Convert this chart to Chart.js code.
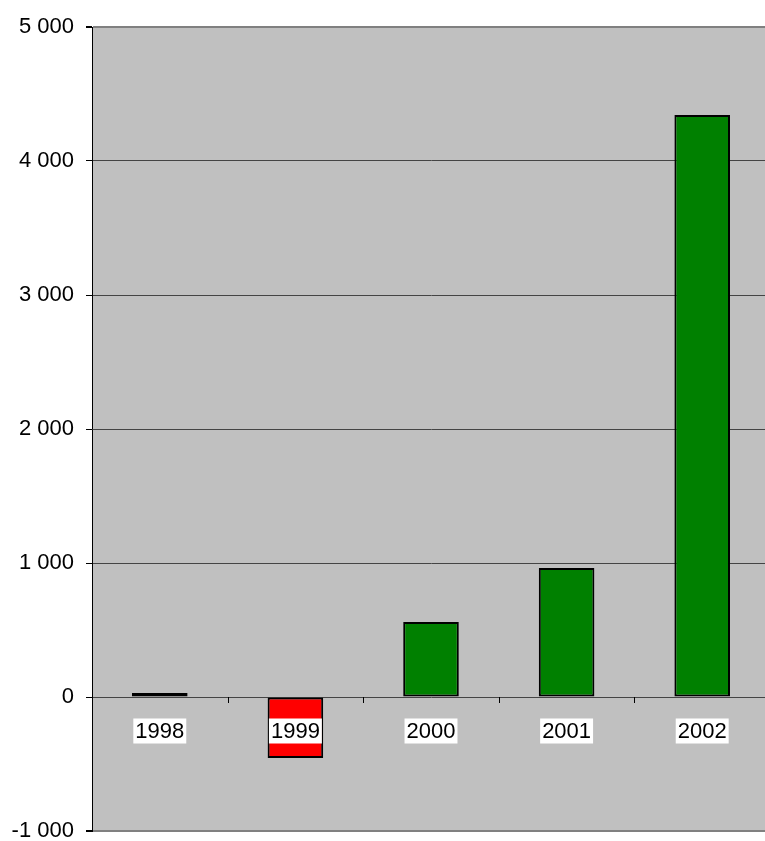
<!DOCTYPE html>
<html>
<head>
<meta charset="utf-8">
<script src="https://cdn.jsdelivr.net/npm/chart.js@4/dist/chart.umd.min.js"></script>
<style>
  html, body { margin: 0; padding: 0; background: #fff; overflow: hidden; }
  #wrap { width: 770px; height: 841px; }
</style>
</head>
<body>
<div id="wrap"><canvas id="chart" width="770" height="841"></canvas></div>
<script>
// data
const years = ['1998', '1999', '2000', '2001', '2002'];
const values = [30, -455, 560, 963, 4343];
const yTicks = [-1000, 0, 1000, 2000, 3000, 4000, 5000];

const FONT = '"Liberation Sans", Arial, sans-serif';

// format 5000 -> "5 000"
function fmt(v) {
    const s = Math.abs(v).toString().replace(/\B(?=(\d{3})+(?!\d))/g, ' ');
    return (v < 0 ? '-' : '') + s;
}

// grey plot area behind the bars
const plotBg = {
    id: 'plotBg',
    beforeDraw(chart) {
        const { ctx, chartArea: a } = chart;
        ctx.save();
        ctx.fillStyle = '#c0c0c0';
        ctx.fillRect(a.left, a.top, a.right - a.left, a.bottom - a.top);
        ctx.restore();
    }
};

// category ticks on the zero line + labels in white boxes
const catLabels = {
    id: 'catLabels',
    afterDatasetsDraw(chart) {
        const { ctx } = chart;
        const xs = chart.scales.x;
        const ys = chart.scales.y;
        const y0 = ys.getPixelForValue(0);
        ctx.save();
        // small ticks between categories
        ctx.strokeStyle = '#000';
        ctx.lineWidth = 1;
        for (let i = 1; i < years.length; i++) {
            const x = Math.round((xs.getPixelForValue(i - 1) + xs.getPixelForValue(i)) / 2) + 0.5;
            ctx.beginPath();
            ctx.moveTo(x, y0);
            ctx.lineTo(x, y0 + 6);
            ctx.stroke();
        }
        ctx.font = '22px ' + FONT;
        ctx.textAlign = 'center';
        ctx.textBaseline = 'middle';
        years.forEach((lab, i) => {
            const x = xs.getPixelForValue(i);
            const y = y0 + 34;
            const w = ctx.measureText(lab).width + 4;
            ctx.fillStyle = '#fff';
            ctx.fillRect(x - w / 2, y - 12.5, w, 25);
            ctx.fillStyle = '#000';
            ctx.fillText(lab, x, y + 1);
        });
        ctx.restore();
    }
};

new Chart(document.getElementById('chart'), {
    type: 'bar',
    data: {
        labels: years,
        datasets: [{
            data: values,
            backgroundColor: values.map(v => v < 0 ? '#ff0000' : '#008000'),
            borderColor: '#000',
            borderWidth: 2,
            borderSkipped: false,
            barPercentage: 0.41,
            categoryPercentage: 1
        }]
    },
    options: {
        responsive: false,
        animation: false,
        layout: { padding: { top: 27, bottom: 10, left: 0, right: 0 } },
        plugins: {
            legend: { display: false },
            tooltip: { enabled: false }
        },
        scales: {
            x: { display: false },
            y: {
                min: -1000,
                max: 5000,
                afterFit(scale) {
                    scale.width = 92;
                    scale.paddingTop = 0;
                    scale.paddingBottom = 0;
                },
                afterBuildTicks(scale) { scale.ticks = yTicks.map(v => ({ value: v })); },
                ticks: {
                    color: '#000',
                    padding: 12,
                    font: { family: FONT, size: 22 },
                    callback: v => fmt(v)
                },
                grid: {
                    color: ctx => (ctx.tick && (ctx.tick.value === 5000 || ctx.tick.value === -1000)) ? '#808080' : '#444',
                    lineWidth: ctx => (ctx.tick && (ctx.tick.value === 5000 || ctx.tick.value === -1000)) ? 2 : 1,
                    tickColor: '#000',
                    tickLength: 6
                },
                border: { color: '#000', width: 1 }
            }
        }
    },
    plugins: [plotBg, catLabels]
});
</script>
</body>
</html>
